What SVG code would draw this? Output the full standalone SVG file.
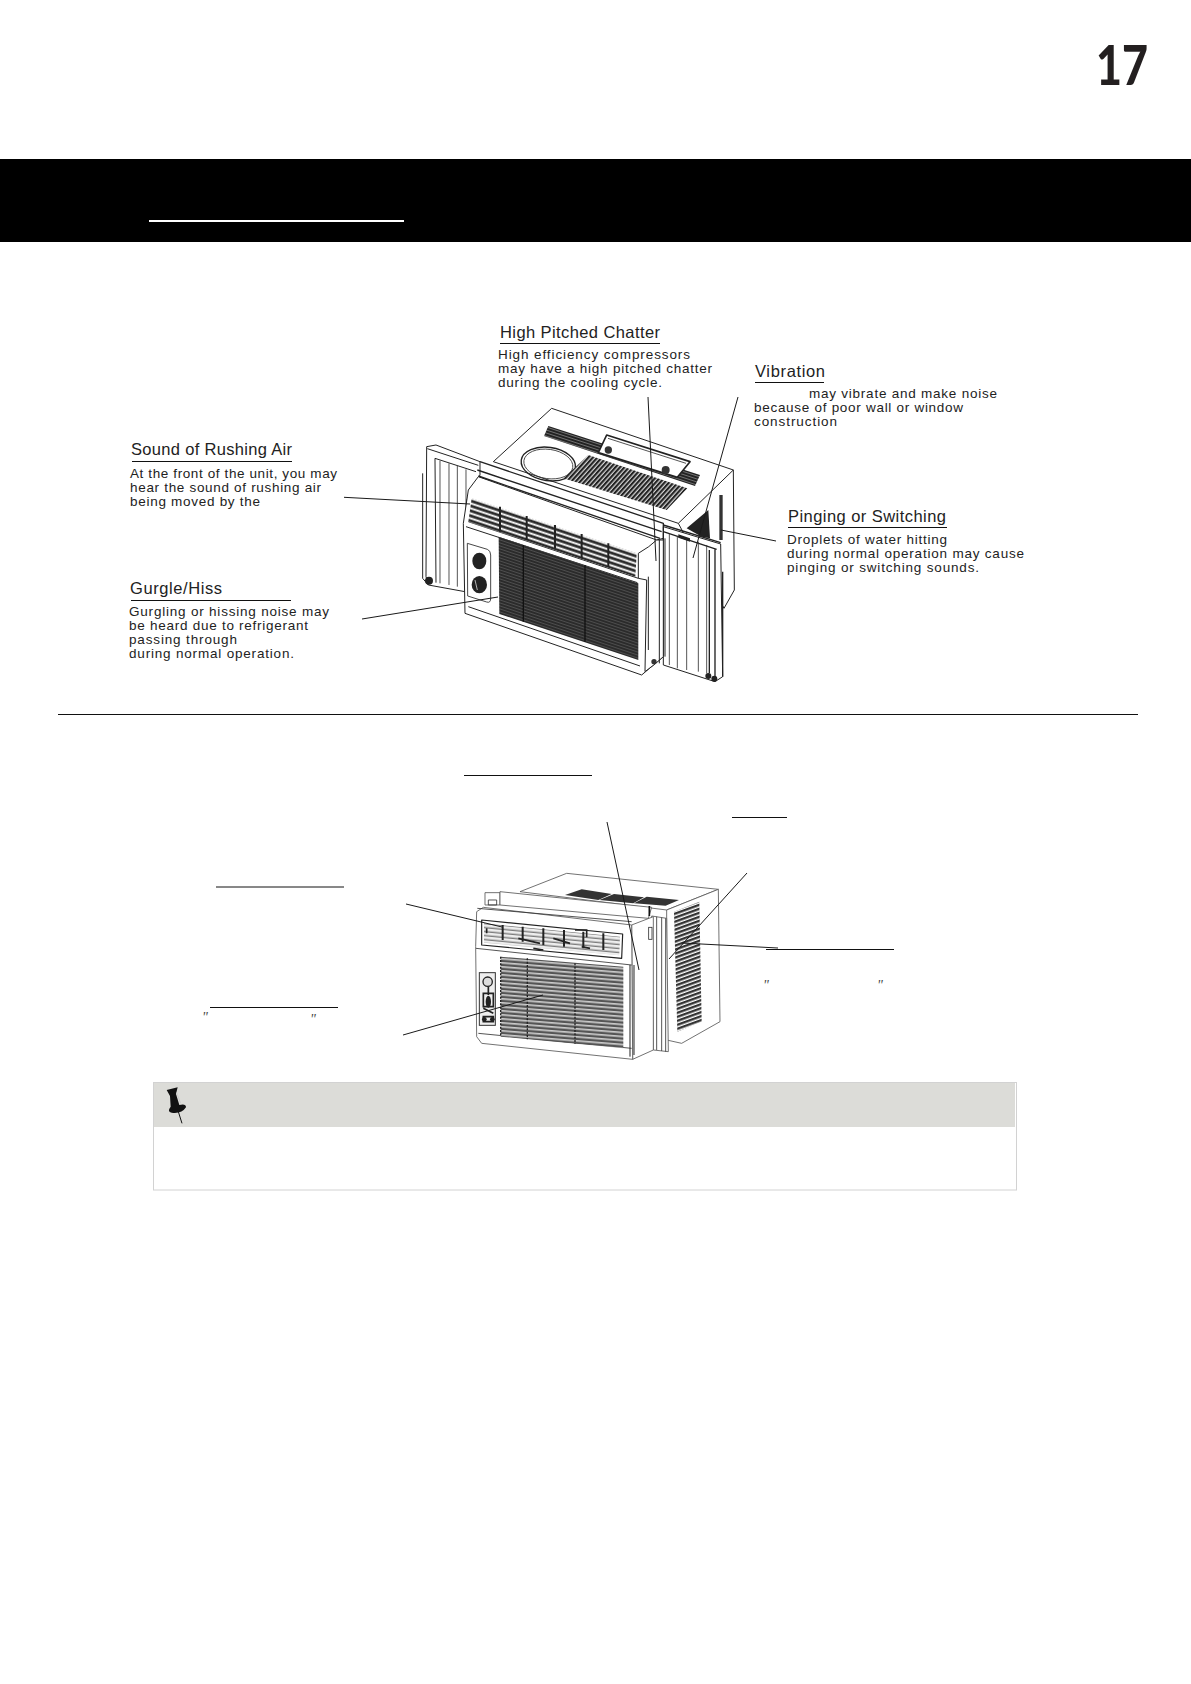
<svg xmlns="http://www.w3.org/2000/svg" width="1191" height="1684" viewBox="0 0 1191 1684">
<style>
text{font-family:"Liberation Sans",Arial,sans-serif;fill:#222}
.t{font-size:16.5px}
.b{font-size:13.5px}
.u{stroke:#111;stroke-width:1;fill:none}
.c{stroke:#1a1a1a;stroke-width:1;fill:none}
.d{fill:#fff;stroke:#222;stroke-width:3;stroke-linejoin:round}
.n{fill:none;stroke:#222;stroke-width:3;stroke-linejoin:round}
.f{fill:none;stroke:#333;stroke-width:2.5}
.e{fill:#fff;stroke:#555;stroke-width:2.5;stroke-linejoin:round}
.q{font-family:"Liberation Serif",serif;font-style:italic;font-size:14px;fill:#444}
</style>
<defs>
<pattern id="slat" patternUnits="userSpaceOnUse" width="10" height="10" patternTransform="rotate(-48)"><rect width="10" height="10" fill="#fff"/><rect y="2" width="10" height="7" fill="#222"/></pattern>
<pattern id="louv" patternUnits="userSpaceOnUse" width="40" height="15" patternTransform="skewY(18.5)"><rect width="40" height="15" fill="#fff"/><rect y="2" width="40" height="9" fill="#2a2a2a"/></pattern>
<pattern id="grid" patternUnits="userSpaceOnUse" width="40" height="9" patternTransform="skewY(18.5)"><rect width="40" height="9" fill="#2b2b2b"/><rect y="6.5" width="40" height="1.4" fill="#777"/></pattern>
<pattern id="strip" patternUnits="userSpaceOnUse" width="40" height="9" patternTransform="skewY(18)"><rect width="40" height="9" fill="#222"/><rect y="4" width="40" height="2" fill="#999"/></pattern>
<pattern id="lg" patternUnits="userSpaceOnUse" width="40" height="12" patternTransform="skewY(4.6)"><rect width="40" height="12" fill="#ccc"/><rect y="2" width="40" height="7" fill="#555"/></pattern>
<pattern id="lside" patternUnits="userSpaceOnUse" width="40" height="12" patternTransform="skewY(-20)"><rect width="40" height="12" fill="#fff"/><rect y="0" width="40" height="7.5" fill="#333"/></pattern>
<pattern id="lv" patternUnits="userSpaceOnUse" width="40" height="12" patternTransform="skewY(5.5)"><rect width="40" height="12" fill="#eee"/><rect y="2" width="40" height="3.5" fill="#666"/></pattern>
</defs>

<g id="page-number"><text x="1148" y="85" text-anchor="end" style="font-family:Lato,sans-serif;font-weight:900;font-size:56px;fill:#231f20" textLength="52" lengthAdjust="spacingAndGlyphs">17</text></g>

<g id="header">
<rect x="0" y="159" width="1191" height="83" fill="#000"/>
<rect x="149" y="220" width="255" height="2" fill="#fff"/>
</g>

<g id="unit-upper" transform="translate(400 390) scale(.33333)">
<!-- left panel -->
<path class="d" d="M80,170L108,165L240,215L240,255L200,330L195,605L85,585L78,560Z"/>
<path class="n" d="M68,250V565L85,585M105,205L228,245M105,205L108,578M82,176L235,226"/>
<path class="f" d="M120,212V580M147,220V585M172,228V590M198,238V600"/>
<circle cx="87" cy="572" r="12" fill="#222"/>
<!-- body -->
<path class="d" d="M280,215L455,55L1000,240L1003,600L972,655L835,400Z"/>
<path class="n" d="M835,400L1000,240"/>
<rect x="958" y="315" width="10" height="135" fill="#333"/>
<path d="M860,415L925,360L930,445L905,440Z" fill="#222"/>
<!-- top details -->
<ellipse cx="445" cy="222" rx="82" ry="50" transform="rotate(8 445 222)" class="n" style="stroke-width:4"/>
<ellipse cx="445" cy="222" rx="74" ry="44" transform="rotate(8 445 222)" class="f"/>
<path d="M445,108L900,255L885,288L432,138Z" fill="url(#strip)"/>
<path class="d" d="M620,135L870,215L832,262L595,188Z" style="stroke-width:5"/>
<path class="f" d="M624,145L858,220"/>
<circle cx="625" cy="180" r="11" fill="#333"/>
<circle cx="797" cy="240" r="12" fill="#333"/>
<path d="M565,195L862,295L800,360L490,265Z" fill="url(#slat)"/>
<!-- right panel -->
<path class="d" d="M790,410L962,462L968,860L945,875L790,825Z"/>
<path class="n" d="M790,405L962,458M790,425L950,478M945,478V865M968,545V860M928,480V850" style="stroke-width:4"/>
<path class="f" d="M808,430V825M832,438V835M860,445V840M895,455V845M920,465V850"/>
<path d="M835,433L870,445V455L835,443Z" fill="#222"/>
<circle cx="925" cy="858" r="9" fill="#222"/><circle cx="943" cy="866" r="9" fill="#222"/>
<!-- front -->
<path class="d" d="M235,260L770,450L790,445L790,800L725,855L195,670L190,400L205,300Z"/>
<path class="n" d="M240,215L790,400L790,450M235,258L780,445M232,240L785,425" style="stroke-width:4"/>
<path class="n" d="M205,395L715,565M198,410L712,578M205,650L720,828"/>
<path class="d" d="M715,490Q750,470 770,450L790,450V800L765,822L735,845L740,570L715,565Z"/>
<path class="n" d="M745,560V780M778,450V820M795,445V800"/>
<circle cx="762" cy="815" r="8" fill="#333"/>
<path d="M215,325L710,490L706,560L205,395Z" fill="url(#louv)"/>
<path d="M300,350V425M380,378V450M465,405V475M545,432V505M625,460V530" stroke="#222" stroke-width="6"/>
<path d="M296,440L715,580L715,810L298,672Z" fill="url(#grid)"/>
<path d="M370,465V695M555,525V755" stroke="#111" stroke-width="4"/>
<path class="d" d="M202,460L262,478Q272,482 272,495V625Q272,640 260,636L203,618Z" style="stroke-width:2.5"/>
<ellipse cx="238" cy="513" rx="21" ry="25" fill="#222"/>
<ellipse cx="238" cy="584" rx="23" ry="26" fill="#222"/>
<path d="M225,570L232,600" stroke="#fff" stroke-width="2"/>
</g>

<g id="unit-lower" transform="translate(440 850) scale(.33333)">
<path class="e" d="M135,128H180V165H135Z"/>
<path class="f" d="M145,150H170V165H145Z"/>
<path class="e" d="M240,125L380,70L835,118L680,180Z"/>
<path class="e" d="M680,180L835,118L840,515L725,580L680,570Z"/>
<path d="M375,135L425,118L515,132L475,150Z" fill="#333"/>
<path d="M478,150L522,132L612,142L580,160Z" fill="#333"/>
<path d="M582,160L620,140L717,150L677,167Z" fill="#333"/>
<path d="M702,185L778,155L785,515L712,545Z" fill="url(#lside)"/>
<path class="e" d="M180,125L635,172L625,205L180,165Z"/>
<path d="M628,168V198" stroke="#111" stroke-width="5"/>
<path class="e" d="M635,198L680,205L685,605L640,600Z"/>
<path class="f" d="M650,200V600M665,203V603M677,205V605"/>
<path class="e" d="M575,225L640,200V600L578,628Z"/>
<path class="e" d="M110,185L130,172L575,225L578,628L125,580L110,560L107,290Z"/>
<path class="f" d="M108,295L575,345M112,175L575,215M115,550L575,595"/>
<path class="n" d="M125,210L548,252L545,325L125,285Z" style="stroke-width:3.5"/>
<path d="M132,220L540,260L538,316L132,278Z" fill="url(#lv)"/>
<path d="M188,225V270M248,230V275M310,235V285M372,240V290M430,245V295M490,250V300" stroke="#222" stroke-width="6"/>
<path d="M140,235V250M235,265L300,280M340,265L390,280M405,240H440V262M280,295L310,300M425,290L450,295" stroke="#222" stroke-width="5" fill="none"/>
<path d="M182,320L550,350L550,595L182,560Z" fill="url(#lg)"/>
<path d="M182,320V560M262,325V568M405,340V582" stroke="#222" stroke-width="4" stroke-dasharray="6 4"/>
<path class="n" d="M570,345V620M582,345V615"/>
<rect x="626" y="232" width="10" height="36" class="f"/>
<rect x="118" y="368" width="48" height="158" fill="#eee" stroke="#333" stroke-width="3"/>
<circle cx="143" cy="395" r="14" fill="#ddd" stroke="#222" stroke-width="4"/>
<path d="M145,410V435M130,430H160V470H130ZM130,475L160,490M130,500H160V515H130Z" stroke="#222" stroke-width="5" fill="none"/>
<ellipse cx="145" cy="455" rx="8" ry="18" fill="#222"/>
<circle cx="133" cy="508" r="7" fill="#222"/><circle cx="157" cy="508" r="7" fill="#222"/>
</g>

<g id="connectors">
<path class="c" d="M344,497.3L470,504"/>
<path class="c" d="M362,619L498,597"/>
<path class="c" d="M648,397L656,561"/>
<path class="c" d="M738,397L693,558"/>
<path class="c" d="M776,541L721,530"/>
<path class="c" d="M406,904L502,927"/>
<path class="c" d="M403,1035L543,995"/>
<path class="c" d="M607,822L639,970"/>
<path class="c" d="M747,873L669,959"/>
<path class="c" d="M778,948L682,943"/>
</g>

<g id="note-chatter">
<text class="t" x="500" y="338" textLength="160">High Pitched Chatter</text>
<path class="u" d="M500,343.5H660"/>
<text class="b" x="498" y="359" textLength="192">High efficiency compressors</text>
<text class="b" x="498" y="373" textLength="214">may have a high pitched chatter</text>
<text class="b" x="498" y="387" textLength="164">during the cooling cycle.</text>
</g>
<g id="note-vibration">
<text class="t" x="755" y="377" textLength="70">Vibration</text>
<path class="u" d="M755,382.5H824"/>
<text class="b" x="809" y="398" textLength="188">may vibrate and make noise</text>
<text class="b" x="754" y="412" textLength="209">because of poor wall or window</text>
<text class="b" x="754" y="426" textLength="83">construction</text>
</g>
<g id="note-pinging">
<text class="t" x="788" y="522" textLength="158">Pinging or Switching</text>
<path class="u" d="M788,527.5H947"/>
<text class="b" x="787" y="544" textLength="160">Droplets of water hitting</text>
<text class="b" x="787" y="558" textLength="237">during normal operation may cause</text>
<text class="b" x="787" y="572" textLength="192">pinging or switching sounds.</text>
</g>
<g id="note-rushing">
<text class="t" x="131" y="455" textLength="161">Sound of Rushing Air</text>
<path class="u" d="M132,461.5H292"/>
<text class="b" x="130" y="478" textLength="207">At the front of the unit, you may</text>
<text class="b" x="130" y="492" textLength="191">hear the sound of rushing air</text>
<text class="b" x="130" y="506" textLength="130">being moved by the</text>
</g>
<g id="note-gurgle">
<text class="t" x="130" y="594" textLength="92">Gurgle/Hiss</text>
<path class="u" d="M131,600.5H291"/>
<text class="b" x="129" y="616" textLength="200">Gurgling or hissing noise may</text>
<text class="b" x="129" y="630" textLength="179">be heard due to refrigerant</text>
<text class="b" x="129" y="644" textLength="108">passing through</text>
<text class="b" x="129" y="658" textLength="165">during normal operation.</text>
</g>

<path id="divider" class="u" d="M58,714.5H1138"/>

<g id="blank-labels">
<path class="u" d="M464,775.5H592"/>
<path class="u" d="M216,887H344"/>
<path class="u" d="M210,1007.5H338"/>
<path class="u" d="M732,817.5H787"/>
<path class="u" d="M766,949.5H894"/>
<text class="q" x="202" y="1022">"</text>
<text class="q" x="310" y="1024">"</text>
<text class="q" x="763" y="990">"</text>
<text class="q" x="877" y="990">"</text>
</g>

<g id="note-box">
<rect x="153.5" y="1082.5" width="863" height="107.5" fill="#fff" stroke="#d2d2d2" stroke-width="1"/>
<rect x="154" y="1083" width="861" height="44" fill="#dcdcd8"/>
<g id="pin" transform="translate(140 1070) scale(.33333)">
<path d="M80,60L113,52L108,72L118,105Q138,100 138,112Q125,132 95,128Q80,125 92,110L90,78Z" fill="#111"/>
<path d="M115,125L126,160" stroke="#111" stroke-width="3"/>
<path d="M110,68L122,100" stroke="#ccc" stroke-width="3"/>
</g>
</g>
</svg>
